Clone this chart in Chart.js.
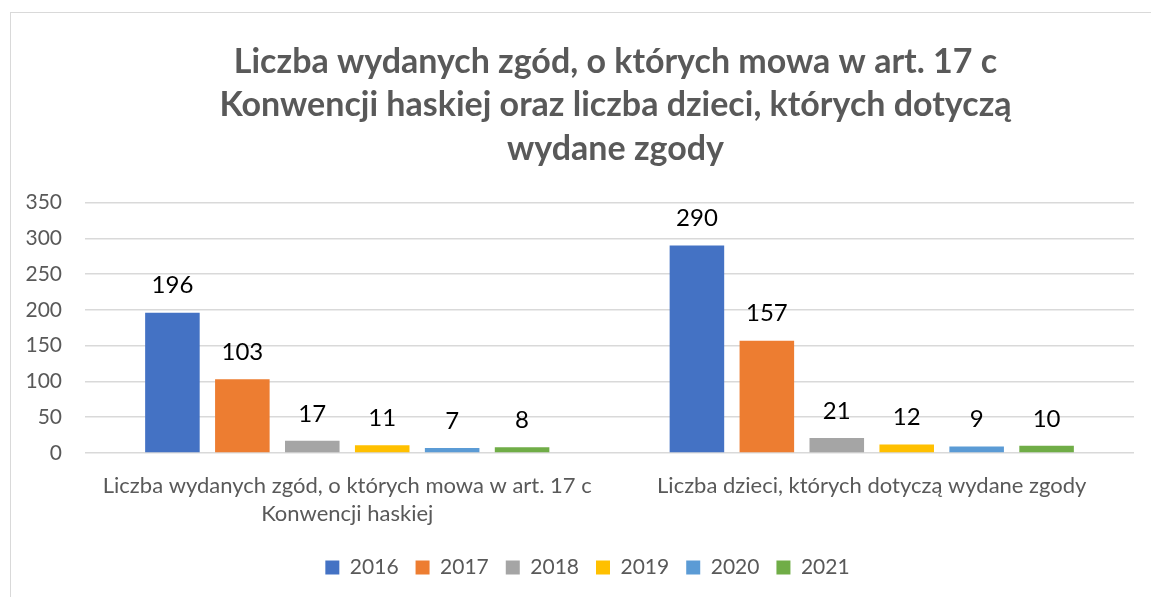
<!DOCTYPE html>
<html>
<head>
<meta charset="utf-8">
<script src="https://cdn.jsdelivr.net/npm/chart.js@4.4.1/dist/chart.umd.min.js"></script>
<style>
  html, body { margin: 0; padding: 0; background: #fff; overflow: hidden; }
  #frame { position: absolute; left: 10px; top: 12px; width: 1300px; height: 700px;
           border: 1.5px solid #d9d9d9; box-sizing: border-box; }
  #wrap { position: absolute; left: 0; top: 0; width: 1151px; height: 597px; }
</style>
</head>
<body>
<div id="frame"></div>
<div id="wrap"><canvas id="chart"></canvas></div>
<script>
// --- data ---
const categories = [
  ['Liczba wydanych zgód, o których mowa w art. 17 c', 'Konwencji haskiej'],
  'Liczba dzieci, których dotyczą wydane zgody',
];
const years = ['2016', '2017', '2018', '2019', '2020', '2021'];
const values = [
  [196, 290],
  [103, 157],
  [17, 21],
  [11, 12],
  [7, 9],
  [8, 10],
];
const yearColors = ['#4472C4', '#ED7D31', '#A5A5A5', '#FFC000', '#5B9BD5', '#70AD47'];
const titleLines = [
  'Liczba wydanych zgód, o których mowa w art. 17 c',
  'Konwencji haskiej oraz liczba dzieci, których dotyczą',
  'wydane zgody',
];

const FONT = 'Lato';
const GREY = '#595959';

// value labels above each bar
const barLabels = {
  id: 'barLabels',
  afterDatasetsDraw(chart) {
    const ctx = chart.ctx;
    ctx.save();
    ctx.font = `24px ${FONT}`;
    ctx.fillStyle = '#000';
    ctx.textAlign = 'center';
    ctx.textBaseline = 'middle';
    chart.data.datasets.forEach((ds, i) => {
      chart.getDatasetMeta(i).data.forEach((bar, j) => {
        ctx.fillText(String(ds.data[j]), bar.x, bar.y - 27);
      });
    });
    ctx.restore();
  },
};

// shift title / legend horizontally like the original layout
const nudge = {
  id: 'nudge',
  afterLayout(chart) {
    const shift = (box, dx) => { if (box) { box.left += dx; box.right += dx; } };
    shift(chart.titleBlock, 6);
    shift(chart.legend, -22);
  },
};

new Chart(document.getElementById('chart'), {
  type: 'bar',
  data: {
    labels: categories,
    datasets: years.map((y, i) => ({
      label: y,
      data: values[i],
      backgroundColor: yearColors[i],
      categoryPercentage: 0.8,
      barPercentage: 0.78,
    })),
  },
  options: {
    responsive: true,
    maintainAspectRatio: false,
    animation: false,
    layout: { padding: { left: 14, right: 17, top: 40, bottom: 9 } },
    scales: {
      x: {
        grid: { display: false },
        border: { display: false },
        ticks: {
          color: GREY,
          font: { size: 22, family: FONT, lineHeight: 1.27 },
          padding: 11,
          maxRotation: 0,
          autoSkip: false,
        },
        afterFit(scale) { scale.height = 87; },
      },
      y: {
        min: 0,
        max: 350,
        ticks: {
          stepSize: 50,
          color: GREY,
          font: { size: 21, family: FONT },
          padding: 23,
        },
        grid: { color: '#d9d9d9', lineWidth: 1.5, drawTicks: false },
        border: { display: false },
        afterFit(scale) { scale.width = 71; },
      },
    },
    plugins: {
      title: {
        display: true,
        text: titleLines,
        color: GREY,
        fullSize: false,
        font: { size: 34, weight: 'bold', family: FONT, lineHeight: 1.28 },
        padding: { top: 0, bottom: 32 },
      },
      legend: {
        position: 'bottom',
        fullSize: false,
        labels: {
          color: GREY,
          font: { size: 21, family: FONT },
          boxWidth: 14,
          boxHeight: 14,
          padding: 17,
        },
      },
      tooltip: { enabled: false },
    },
  },
  plugins: [barLabels, nudge],
});
</script>
</body>
</html>
